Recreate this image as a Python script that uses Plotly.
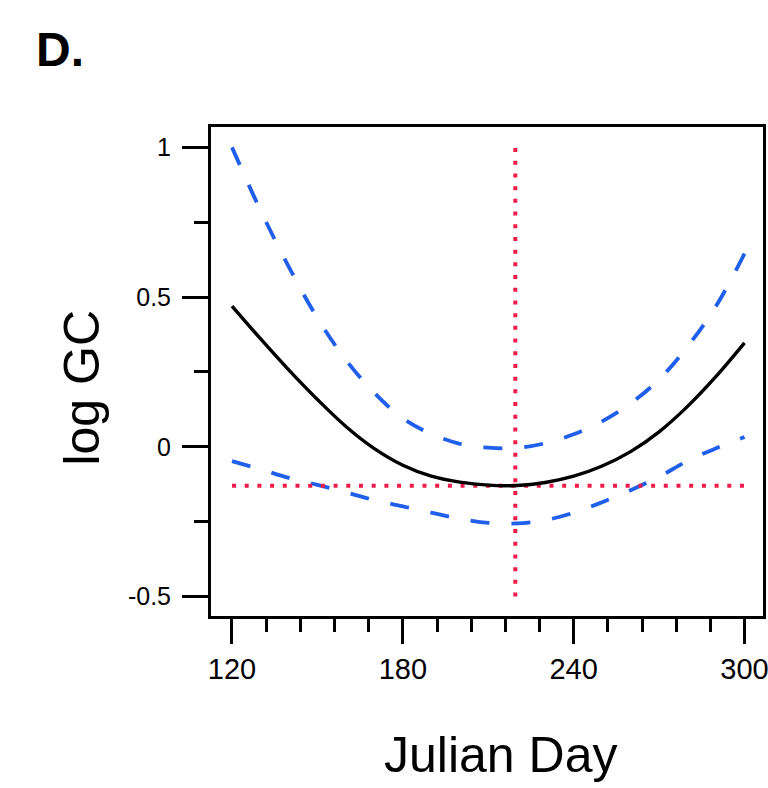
import plotly.graph_objects as go

# Data
julian_day = [120, 130, 140, 150, 160, 170, 180, 190, 200, 210,
              220, 230, 240, 250, 260, 270, 280, 290, 300]
fit = [0.47, 0.361, 0.256, 0.158, 0.068, -0.006, -0.0615, -0.098, -0.118, -0.128,
       -0.129, -0.119, -0.098, -0.064, -0.016, 0.05, 0.135, 0.235, 0.347]
upper_ci = [1.0, 0.79, 0.60, 0.43, 0.29, 0.18, 0.095, 0.043, 0.01, -0.003,
            -0.004, 0.012, 0.042, 0.085, 0.145, 0.225, 0.335, 0.47, 0.645]
lower_ci = [-0.048, -0.075, -0.104, -0.127, -0.152, -0.178, -0.199, -0.22, -0.24, -0.254,
            -0.256, -0.245, -0.22, -0.185, -0.145, -0.10, -0.047, -0.005, 0.033]

peak_day = 219.5
min_value = -0.13
vline_y = [-0.5, 1.0]
hline_x = [120, 300]

x_ticks = [120, 180, 240, 300]
y_ticks = [-0.5, 0, 0.5, 1]
y_tick_labels = ["-0.5", "0", "0.5", "1"]

BLUE = "#1f5fec"
RED = "#ee1c4a"
FONT = "Liberation Sans, Arial, Helvetica, sans-serif"

fig = go.Figure()

fig.add_trace(go.Scatter(x=julian_day, y=upper_ci, mode="lines",
                         line=dict(color=BLUE, width=3.8, dash="19px,22px", shape="spline"),
                         showlegend=False))
fig.add_trace(go.Scatter(x=julian_day, y=lower_ci, mode="lines",
                         line=dict(color=BLUE, width=3.8, dash="19px,22px", shape="spline"),
                         showlegend=False))
fig.add_trace(go.Scatter(x=hline_x, y=[min_value, min_value], mode="lines",
                         line=dict(color=RED, width=4, dash="4px,8.7px"),
                         showlegend=False))
fig.add_trace(go.Scatter(x=[peak_day, peak_day], y=vline_y, mode="lines",
                         line=dict(color=RED, width=4, dash="4px,8.7px"),
                         showlegend=False))
fig.add_trace(go.Scatter(x=julian_day, y=fit, mode="lines",
                         line=dict(color="black", width=3.4, shape="spline"),
                         showlegend=False))

W, H = 768, 788
L, R, T, B = 211, 4.5, 126.5, 171.5
PW, PH = W - L - R, H - T - B


def px(xp):
    return (xp - L) / PW


def py(yp):
    return (H - B - yp) / PH


fig.update_layout(
    width=W, height=H,
    margin=dict(l=L, r=R, t=T, b=B, autoexpand=False),
    paper_bgcolor="white", plot_bgcolor="white",
    font=dict(family=FONT, color="black"),
    xaxis=dict(
        range=[112.63, 306.49], tickvals=x_ticks, ticktext=[str(v) for v in x_ticks],
        ticks="outside", ticklen=25, tickwidth=3, tickcolor="black",
        tickfont=dict(size=29, family=FONT),
        ticklabelstandoff=0, ticklabeloverflow="allow",
        minor=dict(dtick=12, tick0=120, ticks="outside", ticklen=13, tickwidth=3, tickcolor="black"),
        showline=True, linecolor="black", linewidth=3, mirror=True,
        showgrid=False, zeroline=False,
    ),
    yaxis=dict(
        range=[-0.565, 1.068], tickvals=y_ticks, ticktext=y_tick_labels,
        ticks="outside", ticklen=26, tickwidth=3, tickcolor="black",
        tickfont=dict(size=25, family=FONT),
        ticklabelstandoff=6, ticklabeloverflow="allow",
        minor=dict(dtick=0.25, tick0=0, ticks="outside", ticklen=14, tickwidth=3, tickcolor="black"),
        showline=True, linecolor="black", linewidth=3, mirror=True,
        showgrid=False, zeroline=False,
    ),
    annotations=[
        dict(text="Julian Day", xref="paper", yref="paper", x=px(501), y=py(756),
             xanchor="center", yanchor="middle", showarrow=False, font=dict(size=50, family=FONT)),
        dict(text="log GC", xref="paper", yref="paper", x=px(82), y=py(387.5),
             xanchor="center", yanchor="middle", textangle=-90, showarrow=False,
             font=dict(size=50, family=FONT)),
        dict(text="<b>D.</b>", xref="paper", yref="paper", x=px(34), y=py(49),
             xanchor="left", yanchor="middle", showarrow=False, font=dict(size=48, family=FONT)),
    ],
)

fig.write_html(
    "out.html",
    config={"displayModeBar": False},
    post_script="document.body.style.margin='0';document.body.style.overflow='hidden';",
)
